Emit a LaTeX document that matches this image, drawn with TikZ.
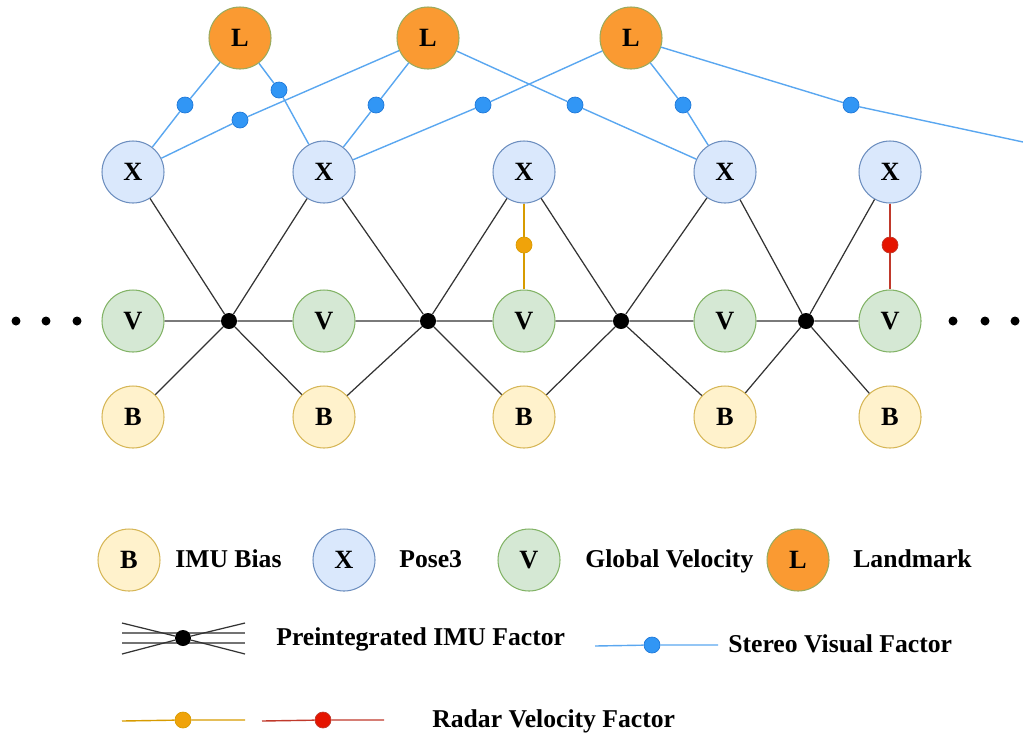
\documentclass[tikz,border=0pt]{standalone}
\usepackage{fontspec}
\setmainfont{Liberation Serif}
\usetikzlibrary{positioning}
\definecolor{xfill}{HTML}{DAE8FC}\definecolor{xline}{HTML}{6C8EBF}
\definecolor{vfill}{HTML}{D5E8D4}\definecolor{vline}{HTML}{82B366}
\definecolor{bfill}{HTML}{FFF2CC}\definecolor{bline}{HTML}{D6B656}
\definecolor{lfill}{HTML}{FA9A32}\definecolor{lline}{HTML}{9AAB5E}
\definecolor{visline}{HTML}{5AA7F0}\definecolor{visdot}{HTML}{3196F5}\definecolor{visdraw}{HTML}{1F78D8}
\definecolor{orline}{HTML}{D79B00}\definecolor{ordot}{HTML}{F0A30A}
\definecolor{rdline}{HTML}{C0392B}\definecolor{rddot}{HTML}{E51400}
\begin{document}
\begin{tikzpicture}[x=0.02cm,y=-0.02cm,font=\fontsize{15}{18}\selectfont\bfseries]
\tikzstyle{var}=[circle,draw,line width=0.6pt,minimum size=1.24cm,inner sep=0pt]
\tikzstyle{px}=[var,fill=xfill,draw=xline]
\tikzstyle{pv}=[var,fill=vfill,draw=vline]
\tikzstyle{pb}=[var,fill=bfill,draw=bline]
\tikzstyle{pl}=[var,fill=lfill,draw=lline]
\tikzstyle{fac}=[circle,fill=black,minimum size=0.32cm,inner sep=0pt]
\tikzstyle{sv}=[circle,fill=visdot,draw=visdraw,line width=0.4pt,minimum size=0.32cm,inner sep=0pt]
\tikzstyle{ro}=[circle,fill=ordot,draw=orline,line width=0.4pt,minimum size=0.32cm,inner sep=0pt]
\tikzstyle{rr}=[circle,fill=rddot,draw=rdline,line width=0.4pt,minimum size=0.32cm,inner sep=0pt]
\tikzstyle{imu}=[black!80,line width=0.7pt]
\tikzstyle{svl}=[visline,line width=0.8pt]
\tikzstyle{lab}=[anchor=base west,inner sep=0pt,font=\fontsize{14.6}{17}\selectfont\bfseries]
\useasboundingbox (0,0) rectangle (1023,738);
% landmarks
\node[pl] (l1) at (240,38) {L};
\node[pl] (l2) at (428,38) {L};
\node[pl] (l3) at (631,38) {L};
% poses, velocities, biases
\node[px] (x1) at (133,172) {X};
\node[px] (x2) at (324,172) {X};
\node[px] (x3) at (524,172) {X};
\node[px] (x4) at (725,172) {X};
\node[px] (x5) at (890,172) {X};
\node[pv] (v1) at (133,321) {V};
\node[pv] (v2) at (324,321) {V};
\node[pv] (v3) at (524,321) {V};
\node[pv] (v4) at (725,321) {V};
\node[pv] (v5) at (890,321) {V};
\node[pb] (b1) at (133,417) {B};
\node[pb] (b2) at (324,417) {B};
\node[pb] (b3) at (524,417) {B};
\node[pb] (b4) at (725,417) {B};
\node[pb] (b5) at (890,417) {B};
% imu factors
\node[fac] (f1) at (229,321) {};
\node[fac] (f2) at (428,321) {};
\node[fac] (f3) at (621,321) {};
\node[fac] (f4) at (806,321) {};
\foreach \f/\a/\b in {1/1/2,2/2/3,3/3/4,4/4/5}
  \draw[imu] (x\a) -- (f\f) -- (x\b) (v\a) -- (f\f) -- (v\b) (b\a) -- (f\f) -- (b\b);
% stereo visual factors
\coordinate (lout) at (1023,142);
\node[sv] (s1) at (185,105) {};
\node[sv] (s2) at (279,90) {};
\node[sv] (s3) at (240,120) {};
\node[sv] (s4) at (376,105) {};
\node[sv] (s5) at (575,105) {};
\node[sv] (s6) at (483,105) {};
\node[sv] (s7) at (683,105) {};
\node[sv] (s8) at (851,105) {};
\draw[svl] (l1) -- (s1) -- (x1);
\draw[svl] (l1) -- (s2) -- (x2);
\draw[svl] (l2) -- (s3) -- (x1);
\draw[svl] (l2) -- (s4) -- (x2);
\draw[svl] (l2) -- (s5) -- (x4);
\draw[svl] (l3) -- (s6) -- (x2);
\draw[svl] (l3) -- (s7) -- (x4);
\draw[svl] (l3) -- (s8) -- (lout);
% radar velocity factors
\node[ro] (r1) at (524,245) {};
\node[rr] (r2) at (890,245) {};
\draw[orline,line width=0.8pt] (x3) -- (r1) -- (v3);
\draw[rdline,line width=0.8pt] (x5) -- (r2) -- (v5);
% ellipsis
\foreach \d in {16,46,77,953,985,1015}
  \fill (\d,321) circle (0.09cm);
% legend
\node[pb] (kb) at (129,560) {B};
\node[lab] (tb) at (175,567) {IMU Bias};
\node[px] (kx) at (344,560) {X};
\node[lab] (tx) at (399,567) {Pose3};
\node[pv] (kv) at (529,560) {V};
\node[lab] (tv) at (585,567) {Global Velocity};
\node[pl] (kl) at (798,560) {L};
\node[lab] (tl) at (853,567) {Landmark};
\coordinate (pa) at (122,623); \coordinate (pb) at (245,654);
\coordinate (pc) at (122,654); \coordinate (pd) at (245,623);
\coordinate (pe) at (122,633); \coordinate (pf) at (245,633);
\coordinate (pg) at (122,643); \coordinate (ph) at (245,643);
\draw[black!55,line width=0.8pt] (pe) -- (pf) (pg) -- (ph);
\node[fac] (kf) at (183,638) {};
\draw[imu] (pa) -- (kf) -- (pb) (pc) -- (kf) -- (pd);
\node[lab] (tf) at (276,645) {Preintegrated IMU Factor};
\coordinate (sa) at (595,646); \coordinate (sb) at (718,645);
\node[sv] (ks) at (652,645) {};
\draw[svl] (sa) -- (ks) -- (sb);
\node[lab] (ts) at (728,652) {Stereo Visual Factor};
\coordinate (oa) at (122,721); \coordinate (ob) at (245,720);
\coordinate (ra) at (262,721); \coordinate (rb) at (384,720);
\node[ro] (ko) at (183,720) {};
\node[rr] (kr) at (323,720) {};
\draw[orline,line width=0.8pt] (oa) -- (ko) -- (ob);
\draw[rdline,line width=0.8pt] (ra) -- (kr) -- (rb);
\node[lab] (tr) at (432,727) {Radar Velocity Factor};
\end{tikzpicture}
\end{document}
